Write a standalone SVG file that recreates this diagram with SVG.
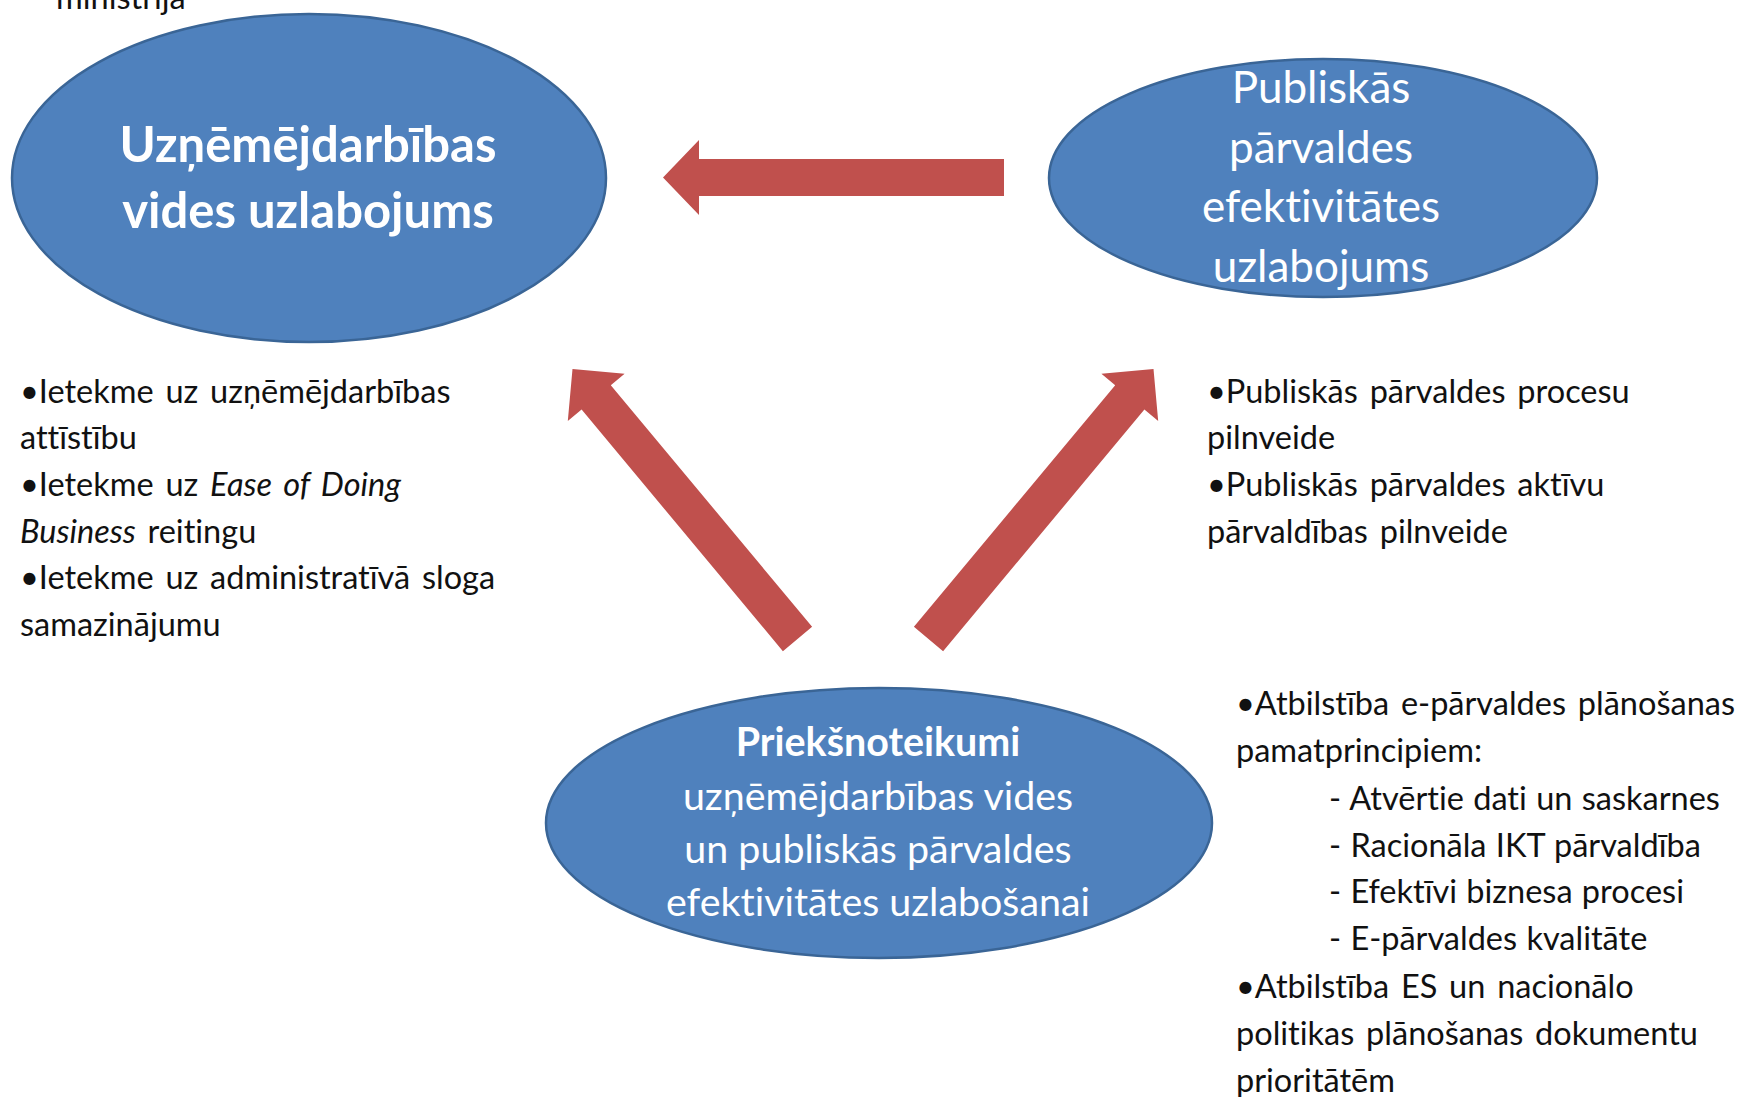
<svg xmlns="http://www.w3.org/2000/svg" width="1744" height="1097" viewBox="0 0 1744 1097">
<style>
text{font-variant-ligatures:none;font-feature-settings:"liga" 0,"clig" 0}
.node{fill:#4F81BD;stroke:#3A6596;stroke-width:2.5}
.arrow{fill:#C0504D}
.w{fill:#FFFFFF;font-family:Lato,"Open Sans","Liberation Sans",sans-serif;text-anchor:middle}
.b{font-weight:bold}
.t{fill:#111111;font-family:Lato,"Open Sans","Liberation Sans",sans-serif;font-size:32.5px;word-spacing:3.5px}
.d{word-spacing:1px}
</style>
<rect width="1744" height="1097" fill="#FFFFFF"/>
<text class="t" x="56" y="9" font-size="24" word-spacing="0">ministrija</text>
<g id="connectors">
<polygon class="arrow" points="1004,159 699,159 699,140 663,177.5 699,215 699,196 1004,196"/>
<polygon class="arrow" points="812.1,626.8 610.8,385.2 624.6,373.7 572.5,369 567.8,421.1 581.6,409.6 782.9,651.2"/>
<polygon class="arrow" points="913.9,626.8 1115.2,385.2 1101.4,373.7 1153.5,369 1158.2,421.1 1144.4,409.6 943.1,651.2"/>
</g>
<g id="node-uznemejdarbiba">
<ellipse class="node" cx="309" cy="178" rx="297" ry="164"/>
<text class="w b" font-size="49"><tspan x="308" y="162">Uzņēmējdarbības</tspan><tspan x="308" y="228">vides uzlabojums</tspan></text>
</g>
<g id="node-publiska-parvalde">
<ellipse class="node" cx="1323" cy="178" rx="274" ry="119"/>
<text class="w" font-size="44"><tspan x="1321" y="103">Publiskās</tspan><tspan x="1321" y="163">pārvaldes</tspan><tspan x="1321" y="222">efektivitātes</tspan><tspan x="1321" y="282">uzlabojums</tspan></text>
</g>
<g id="node-priekshnoteikumi">
<ellipse class="node" cx="879" cy="823" rx="333" ry="135"/>
<text class="w" font-size="39.4"><tspan class="b" x="878" y="756">Priekšnoteikumi</tspan><tspan x="878" y="810">uzņēmējdarbības vides</tspan><tspan x="878" y="863">un publiskās pārvaldes</tspan><tspan x="878" y="916">efektivitātes uzlabošanai</tspan></text>
</g>
<g id="text-left">
<text class="t"><tspan x="20" y="403">•Ietekme uz uzņēmējdarbības</tspan><tspan x="20" y="449">attīstību</tspan><tspan x="20" y="496">•Ietekme uz <tspan font-style="italic">Ease of Doing</tspan></tspan><tspan x="20" y="543"><tspan font-style="italic">Business</tspan> reitingu</tspan><tspan x="20" y="589">•Ietekme uz administratīvā sloga</tspan><tspan x="20" y="636">samazinājumu</tspan></text>
</g>
<g id="text-right-top">
<text class="t"><tspan x="1207" y="403">•Publiskās pārvaldes procesu</tspan><tspan x="1207" y="449">pilnveide</tspan><tspan x="1207" y="496">•Publiskās pārvaldes aktīvu</tspan><tspan x="1207" y="543">pārvaldības pilnveide</tspan></text>
</g>
<g id="text-right-bottom">
<text class="t"><tspan x="1236" y="715">•Atbilstība e-pārvaldes plānošanas</tspan><tspan x="1236" y="762">pamatprincipiem:</tspan><tspan class="d" x="1329" y="810">- Atvērtie dati un saskarnes</tspan><tspan class="d" x="1329" y="857">- Racionāla IKT pārvaldība</tspan><tspan class="d" x="1329" y="903">- Efektīvi biznesa procesi</tspan><tspan class="d" x="1329" y="950">- E-pārvaldes kvalitāte</tspan><tspan x="1236" y="998">•Atbilstība ES un nacionālo</tspan><tspan x="1236" y="1045">politikas plānošanas dokumentu</tspan><tspan x="1236" y="1092">prioritātēm</tspan></text>
</g>
</svg>
